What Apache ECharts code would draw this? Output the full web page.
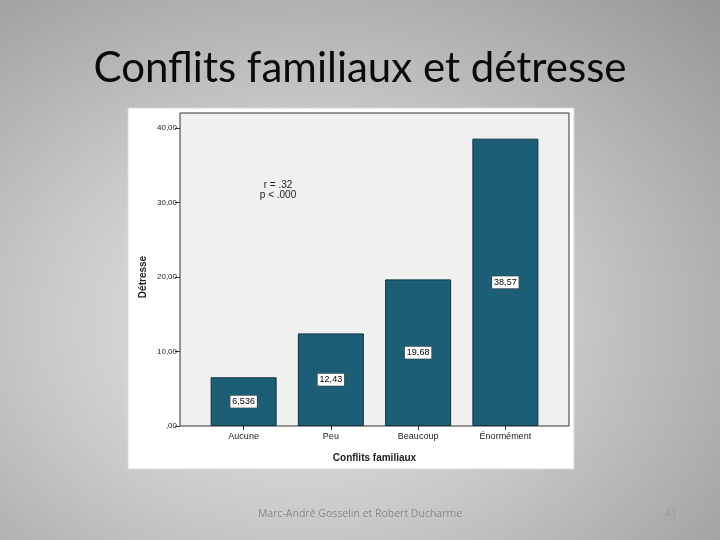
<!DOCTYPE html>
<html>
<head>
<meta charset="utf-8">
<script src="https://cdn.jsdelivr.net/npm/echarts@6/dist/echarts.min.js"></script>
<style>
html,body{margin:0;padding:0;width:720px;height:540px;overflow:hidden;}
body{background:radial-gradient(ellipse at 42% 60%, #ebebeb 0%, #c8c8c8 45%, #969696 100%);}
#c{width:720px;height:540px;}
</style>
</head>
<body>
<div id="c"></div>
<script>
var categories = ['Aucune', 'Peu', 'Beaucoup', 'Énormément'];
var values = [6.536, 12.43, 19.68, 38.57];
var valueLabels = ['6,536', '12,43', '19,68', '38,57'];
var yTicks = [0, 10, 20, 30, 40];
var statsText = ['r = .32', 'p < .000'];
var titleText = 'Conflits familiaux et détresse';
var footerText = 'Marc-André Gosselin et Robert Ducharme';
var pageNumber = '41';

var chart = echarts.init(document.getElementById('c'));

function fmtTick(v) {
  if (v === 0) return ',00';
  return v.toFixed(2).replace('.', ',');
}

chart.setOption({
  backgroundColor: 'transparent',
  animation: false,
  title: {
    text: titleText,
    left: 'center',
    top: 42,
    textStyle: { fontFamily: 'Lato', fontWeight: 'normal', fontSize: 42, color: '#0a0a0a' }
  },
  graphic: [
    { type: 'rect', z: -10, shape: { x: 128, y: 108, width: 446, height: 361 },
      style: { fill: '#ffffff', stroke: '#d8d8d8', lineWidth: 1 } },
    { type: 'text', x: 278, y: 180, style: { text: statsText.join('\n'), textAlign: 'center',
      fontFamily: 'Liberation Sans', fontSize: 10, lineHeight: 10, fill: '#222' } },
    { type: 'text', x: 360, y: 509, style: { text: footerText, textAlign: 'center',
      fontFamily: 'Open Sans', fontSize: 10.5, fill: '#8a8a8a' } },
    { type: 'text', x: 671, y: 509, style: { text: pageNumber, textAlign: 'center',
      fontFamily: 'Open Sans', fontSize: 10.5, fill: '#999' } }
  ],
  grid: [
    { left: 180, top: 113, width: 389, height: 313, show: true,
      backgroundColor: '#f0f0f0', borderColor: '#333', borderWidth: 1 },
    { left: 200, top: 128, width: 349, height: 298 }
  ],
  xAxis: [
    { gridIndex: 0, type: 'value', show: false },
    { gridIndex: 1, type: 'category', data: categories,
      axisLine: { show: false },
      axisTick: { show: true, alignWithLabel: true, length: 4, lineStyle: { color: '#333' } },
      axisLabel: { fontFamily: 'Liberation Sans', fontSize: 9, color: '#222', margin: 6 },
      name: 'Conflits familiaux', nameLocation: 'middle', nameGap: 27,
      nameTextStyle: { fontFamily: 'Liberation Sans', fontWeight: 'bold', fontSize: 10, color: '#222' } }
  ],
  yAxis: [
    { gridIndex: 0, type: 'value', show: false },
    { gridIndex: 1, type: 'value', min: yTicks[0], max: yTicks[yTicks.length - 1], interval: 10,
      offset: 20,
      axisLine: { show: false },
      axisTick: { show: true, length: 5, lineStyle: { color: '#333' } },
      splitLine: { show: false },
      axisLabel: { formatter: fmtTick, fontFamily: 'Liberation Sans', fontSize: 8, color: '#222', margin: 3 },
      name: 'Détresse', nameLocation: 'middle', nameGap: 32, nameRotate: 90,
      nameTextStyle: { fontFamily: 'Liberation Sans', fontWeight: 'bold', fontSize: 10, color: '#222' } }
  ],
  series: [{
    type: 'bar',
    xAxisIndex: 1, yAxisIndex: 1,
    data: values,
    barWidth: 66,
    itemStyle: { color: '#1c5e76', borderColor: '#0f3442', borderWidth: 1 },
    label: {
      show: true, position: 'inside',
      formatter: function (p) { return valueLabels[p.dataIndex]; },
      fontFamily: 'Liberation Sans', fontSize: 9, color: '#000',
      backgroundColor: '#fff', borderColor: '#333', borderWidth: 0.5, padding: [2, 2, 1, 2]
    }
  }]
});
</script>
</body>
</html>
